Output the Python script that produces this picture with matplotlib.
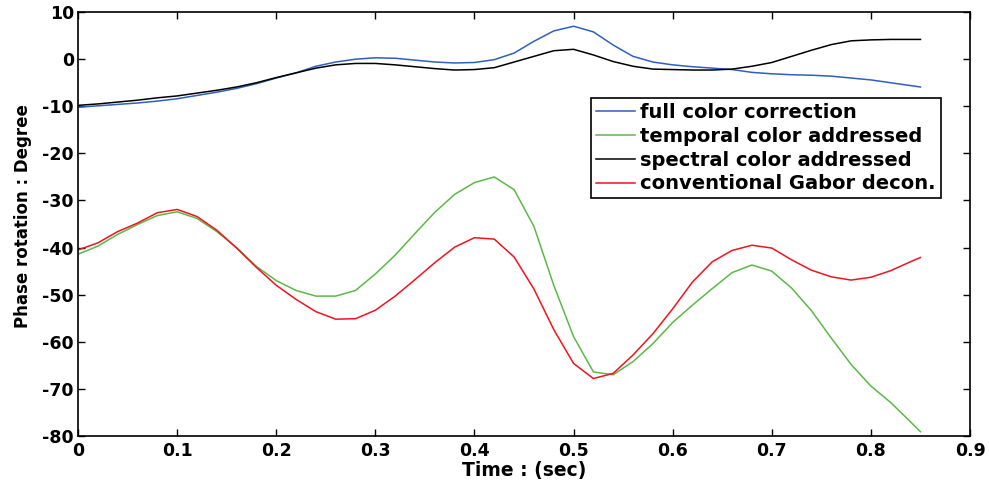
import matplotlib
matplotlib.use('Agg')
import matplotlib.pyplot as plt

# time axis (sec)
time = [0.00, 0.02, 0.04, 0.06, 0.08, 0.10, 0.12, 0.14, 0.16, 0.18,
        0.20, 0.22, 0.24, 0.26, 0.28, 0.30, 0.32, 0.34, 0.36, 0.38,
        0.40, 0.42, 0.44, 0.46, 0.48, 0.50, 0.52, 0.54, 0.56, 0.58,
        0.60, 0.62, 0.64, 0.66, 0.68, 0.70, 0.72, 0.74, 0.76, 0.78,
        0.80, 0.82, 0.84, 0.85]

full_color = [-10.2, -9.9, -9.6, -9.3, -8.9, -8.4, -7.7, -7.0, -6.2, -5.2,
              -4.0, -2.9, -1.5, -0.6, 0.0, 0.3, 0.2, -0.2, -0.6, -0.8,
              -0.7, -0.1, 1.3, 3.8, 6.0, 7.0, 5.8, 3.0, 0.6, -0.6,
              -1.2, -1.6, -1.9, -2.2, -2.8, -3.1, -3.3, -3.4, -3.6, -4.0,
              -4.4, -5.0, -5.6, -5.9]

temporal = [-41.4, -39.7, -37.2, -35.1, -33.2, -32.4, -33.8, -36.6, -40.0, -44.0,
            -47.0, -49.1, -50.3, -50.3, -49.1, -45.6, -41.6, -37.0, -32.5, -28.7,
            -26.2, -25.0, -27.7, -35.5, -48.0, -58.9, -66.4, -67.0, -64.2, -60.4,
            -55.9, -52.2, -48.7, -45.3, -43.7, -45.0, -48.6, -53.4, -59.2, -64.8,
            -69.4, -72.9, -77.0, -79.1]

spectral = [-9.8, -9.5, -9.1, -8.7, -8.2, -7.8, -7.2, -6.6, -5.9, -5.0,
            -3.9, -2.9, -1.9, -1.2, -0.9, -0.9, -1.2, -1.6, -2.0, -2.3,
            -2.2, -1.8, -0.6, 0.6, 1.8, 2.1, 0.9, -0.5, -1.5, -2.1,
            -2.2, -2.3, -2.3, -2.1, -1.5, -0.7, 0.6, 1.9, 3.1, 3.9,
            4.1, 4.2, 4.2, 4.2]

gabor = [-40.5, -39.0, -36.6, -34.8, -32.6, -31.9, -33.4, -36.3, -40.1, -44.2,
         -48.0, -51.0, -53.6, -55.2, -55.1, -53.3, -50.3, -46.8, -43.2, -39.9,
         -37.9, -38.2, -42.0, -48.8, -57.4, -64.6, -67.8, -66.7, -62.8, -58.3,
         -53.0, -47.3, -43.0, -40.6, -39.5, -40.1, -42.6, -44.8, -46.2, -46.9,
         -46.3, -44.9, -43.0, -42.1]

labels = ['full color correction', 'temporal color addressed',
          'spectral color addressed', 'conventional Gabor decon.']
colors = ['#2f5fbf', '#5cb946', '#000000', '#f0141e']

plt.rcParams['font.family'] = ['DejaVu Sans']
plt.rcParams['font.weight'] = 'bold'
plt.rcParams['axes.unicode_minus'] = False

fig = plt.figure(figsize=(9.89, 4.84), dpi=100)
ax = fig.add_axes([0.0789, 0.0992, 0.9019, 0.8758])

for ys, lab, c in zip([full_color, temporal, spectral, gabor], labels, colors):
    ax.plot(time, ys, color=c, lw=1.1, label=lab)

ax.set_xlim(0, 0.9)
ax.set_ylim(-80, 10)
ax.set_xticks([0, 0.1, 0.2, 0.3, 0.4, 0.5, 0.6, 0.7, 0.8, 0.9])
ax.set_xticklabels(['0', '0.1', '0.2', '0.3', '0.4', '0.5', '0.6', '0.7', '0.8', '0.9'])
ax.set_yticks(range(-80, 11, 10))
ax.tick_params(direction='in', top=True, right=True, length=5, width=1,
               labelsize=12.5)
ax.tick_params(axis='x', pad=4.5)
ax.tick_params(axis='y', pad=3)
for lbl in ax.get_xticklabels() + ax.get_yticklabels():
    lbl.set_fontweight('bold')
for s in ax.spines.values():
    s.set_linewidth(1.2)

ax.set_xlabel('Time : (sec)', fontsize=13.5, fontweight='bold', labelpad=0.5)
ax.set_ylabel('Phase rotation : Degree', fontsize=12, fontweight='bold')
ax.yaxis.set_label_coords(-0.052, 0.52)

leg = ax.legend(loc='upper right', bbox_to_anchor=(0.9675, 0.798),
                borderaxespad=0, fancybox=False, edgecolor='black', framealpha=1,
                prop={'size': 14, 'weight': 'bold'}, handlelength=2.0,
                handletextpad=0.3, labelspacing=0.25, borderpad=0.26)
leg.get_frame().set_linewidth(1.2)

fig.savefig('out.png', dpi=100)
